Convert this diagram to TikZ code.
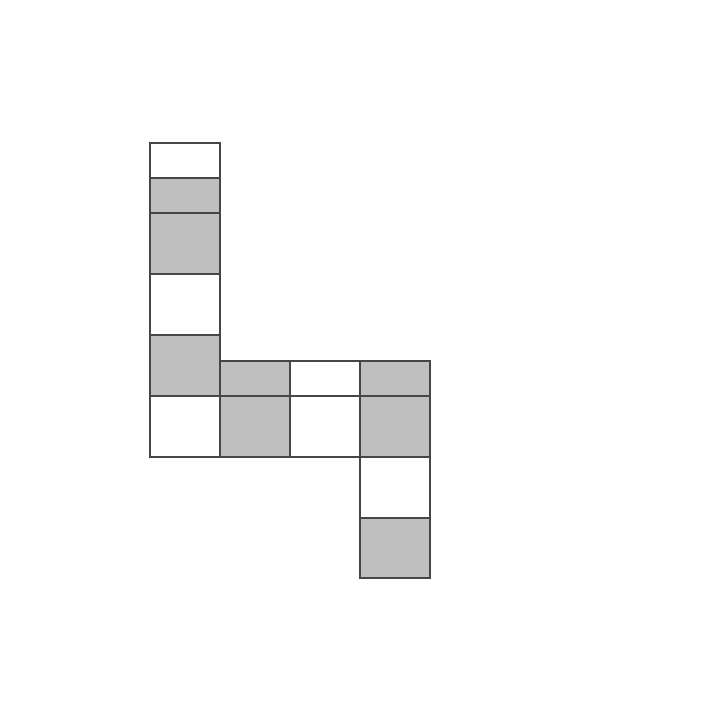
\documentclass[tikz,border=0pt]{standalone}
\usepackage{tikz}
\usepackage{xcolor}
\definecolor{cellgrey}{RGB}{191,191,191}
\definecolor{celledge}{RGB}{70,70,70}
\tikzset{
    greycell/.style={
        draw=celledge,
        fill=cellgrey,
        line width=0.6pt
    },
    whitecell/.style={
        draw=celledge,
        fill=white,
        line width=0.6pt
    }
}

\begin{document}
\begin{tikzpicture}[x=0.02cm,y=-0.02cm]

\useasboundingbox (0,0) rectangle (720,720);

% ------------------------------------------------------------
% Left column
% ------------------------------------------------------------

\draw[whitecell] (150,143) rectangle (220,178);
\draw[greycell]  (150,178) rectangle (220,213);
\draw[greycell]  (150,213) rectangle (220,274);
\draw[whitecell] (150,274) rectangle (220,335);
\draw[greycell]  (150,335) rectangle (220,396);
\draw[whitecell] (150,396) rectangle (220,457);


% ------------------------------------------------------------
% Middle columns
% ------------------------------------------------------------

\draw[greycell]  (220,361) rectangle (290,396);
\draw[greycell]  (220,396) rectangle (290,457);

\draw[whitecell] (290,361) rectangle (360,396);
\draw[whitecell] (290,396) rectangle (360,457);


% ------------------------------------------------------------
% Right column
% ------------------------------------------------------------

\draw[greycell]  (360,361) rectangle (430,396);
\draw[greycell]  (360,396) rectangle (430,457);
\draw[whitecell] (360,457) rectangle (430,518);
\draw[greycell]  (360,518) rectangle (430,578);

\end{tikzpicture}
\end{document}
